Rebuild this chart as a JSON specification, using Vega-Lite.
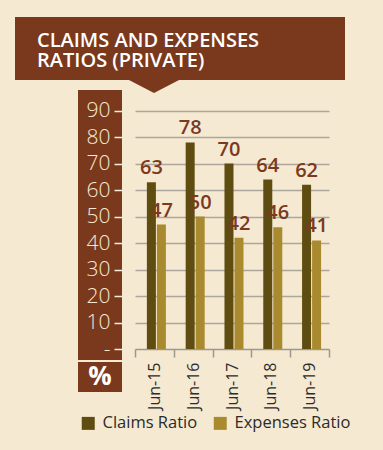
{
  "$schema": "https://vega.github.io/schema/vega-lite/v6.json",
  "background": "#f5e9d2",
  "padding": {"left": 15, "top": 17, "right": 38, "bottom": 18},
  "config": {"view": {"stroke": null}, "font": "Open Sans"},
  "bounds": "flush",
  "spacing": 10,
  "vconcat": [
    {
      "width": 330,
      "height": 63,
      "view": {"fill": "#7a391d"},
      "data": {"values": [{}]},
      "layer": [
        {"mark": {"type": "text", "text": ["CLAIMS AND EXPENSES", "RATIOS (PRIVATE)"], "align": "left", "baseline": "middle", "dx": -143, "dy": -8, "lineHeight": 20, "fontSize": 20, "font": "Open Sans", "fontWeight": 600, "color": "#ffffff"}},
        {"mark": {"type": "point", "shape": "M-52,31 L0,31 L-26,44.5 Z", "size": 4, "filled": true, "color": "#7a391d", "opacity": 1, "strokeWidth": 0}}
      ]
    },
    {
      "hconcat": [
        {"width": 50, "height": 10, "data": {"values": [{}]}, "mark": {"type": "point", "opacity": 0}},
        {
          "width": 44,
          "height": 302,
          "view": {"fill": "#7a391d"},
          "data": {"values": [{}]},
          "encoding": {
            "y": {"datum": 0, "type": "quantitative",
              "scale": {"domain": [-16.1, 97.8], "nice": false, "zero": false},
              "axis": {"title": null, "orient": "right", "offset": -8, "values": [0, 10, 20, 30, 40, 50, 60, 70, 80, 90], "domain": false, "grid": false, "tickSize": 8, "tickColor": "#f4ede0", "tickWidth": 1.5, "labelAlign": "right", "labelPadding": -12, "labelColor": "#f5e9d2", "labelFontSize": 21, "labelFontWeight": 300, "labelExpr": "datum.value == 0 ? '-' : datum.label"}}
          },
          "layer": [
            {"mark": {"type": "rule", "color": "#f5e9d2", "strokeWidth": 2}, "encoding": {"y": {"datum": -4.4, "type": "quantitative"}}},
            {"mark": {"type": "text", "text": "%", "fontSize": 26, "fontWeight": "bold", "color": "#ffffff", "baseline": "middle"}, "encoding": {"y": {"datum": -10.6, "type": "quantitative"}}}
          ]
        },
        {
          "width": 194,
          "height": 259,
          "data": {"values": [
            {"period": "Jun-15", "series": "Claims Ratio", "value": 63},
            {"period": "Jun-15", "series": "Expenses Ratio", "value": 47},
            {"period": "Jun-16", "series": "Claims Ratio", "value": 78},
            {"period": "Jun-16", "series": "Expenses Ratio", "value": 50},
            {"period": "Jun-17", "series": "Claims Ratio", "value": 70},
            {"period": "Jun-17", "series": "Expenses Ratio", "value": 42},
            {"period": "Jun-18", "series": "Claims Ratio", "value": 64},
            {"period": "Jun-18", "series": "Expenses Ratio", "value": 46},
            {"period": "Jun-19", "series": "Claims Ratio", "value": 62},
            {"period": "Jun-19", "series": "Expenses Ratio", "value": 41}
          ]},
          "encoding": {
            "x": {"field": "period", "type": "nominal", "sort": null,
              "scale": {"paddingInner": 0, "paddingOuter": 0},
              "axis": {"title": null, "labelAngle": -90, "labelFontSize": 16, "labelColor": "#2b2b2b", "labelPadding": 5, "tickBand": "extent", "tickSize": 8, "tickColor": "#9d978d", "tickWidth": 1.5, "domainColor": "#9d978d", "domainWidth": 1.5, "grid": false}},
            "xOffset": {"field": "series", "type": "nominal", "sort": ["Claims Ratio", "Expenses Ratio"],
              "scale": {"paddingInner": 0.1, "paddingOuter": 0.99, "align": 0.6}},
            "y": {"field": "value", "type": "quantitative",
              "scale": {"domain": [0, 97.8], "nice": false, "zero": true},
              "axis": {"title": null, "values": [10, 20, 30, 40, 50, 60, 70, 80, 90], "domain": false, "ticks": false, "labels": false, "grid": true, "gridColor": "#aca69c", "gridWidth": 1.5}}
          },
          "layer": [
            {"mark": {"type": "bar"},
              "encoding": {"color": {"field": "series", "type": "nominal",
                "scale": {"domain": ["Claims Ratio", "Expenses Ratio"], "range": ["#5f4c10", "#a98a2f"]},
                "legend": {"orient": "none", "legendX": 65, "legendY": 398, "direction": "horizontal", "title": null, "symbolType": "square", "symbolSize": 169, "symbolStrokeWidth": 0, "symbolOpacity": 1, "labelFontSize": 16.5, "labelColor": "#2b2b2b", "columnPadding": 14, "labelOffset": 6, "padding": 0}}}},
            {"mark": {"type": "text", "baseline": "alphabetic", "dy": -8, "fontSize": 20, "fontWeight": 600, "color": "#7b3a1f"},
              "encoding": {"text": {"field": "value", "type": "quantitative"}}}
          ]
        }
      ],
      "spacing": 13,
      "bounds": "flush"
    }
  ]
}
